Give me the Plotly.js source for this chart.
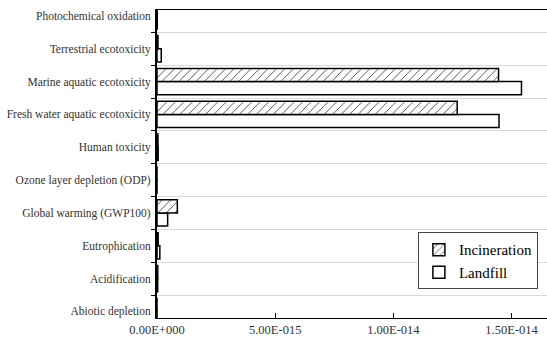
<!DOCTYPE html>
<html>
<head>
<meta charset="utf-8">
<script src="https://cdn.plot.ly/plotly-3.0.1.min.js"></script>
<style>html,body{margin:0;padding:0;background:#fff;}#chart{width:547px;height:337px;}</style>
</head>
<body>
<div id="chart"></div>
<script>
const categories = [
  "Abiotic depletion",
  "Acidification",
  "Eutrophication",
  "Global warming (GWP100)",
  "Ozone layer depletion (ODP)",
  "Human toxicity",
  "Fresh water aquatic ecotoxicity",
  "Marine aquatic ecotoxicity",
  "Terrestrial ecotoxicity",
  "Photochemical oxidation"
];
const incineration = [1e-18, 3e-17, 5e-17, 8.6e-16, 1e-18, 4e-17, 1.27e-14, 1.445e-14, 4e-17, 1e-17];
const landfill     = [1e-18, 3e-17, 1.2e-16, 4.5e-16, 1e-18, 5e-17, 1.447e-14, 1.542e-14, 1.8e-16, 1e-17];
const xTickVals = [0, 5e-15, 1e-14, 1.5e-14];
const xTickText = ["0.00E+000", "5.00E-015", "1.00E-014", "1.50E-014"];

const serif = "Liberation Serif";

const traces = [
  {
    type: "bar", orientation: "h", name: "Landfill",
    y: categories, x: landfill,
    marker: {color: "#ffffff", line: {color: "#000000", width: 1.5}},
    hoverinfo: "x+y"
  },
  {
    type: "bar", orientation: "h", name: "Incineration",
    y: categories, x: incineration,
    marker: {color: "#ffffff", line: {color: "#000000", width: 1.5},
      pattern: {shape: "/", fgcolor: "#444444", bgcolor: "#ffffff", size: 6, solidity: 0.15}},
    hoverinfo: "x+y"
  }
];

const layout = {
  width: 547, height: 337,
  margin: {l: 157, r: 0, t: 10, b: 19, pad: 0},
  paper_bgcolor: "#ffffff", plot_bgcolor: "#ffffff",
  barmode: "group", bargap: 0.2, bargroupgap: 0,
  showlegend: true,
  legend: {
    x: 0.669, y: 0.278, xanchor: "left", yanchor: "top",
    traceorder: "reversed",
    bordercolor: "#444444", borderwidth: 1, bgcolor: "#ffffff",
    font: {family: serif, size: 15, color: "#000000"},
    tracegroupgap: 0
  },
  font: {family: serif, color: "#222222"},
  xaxis: {
    range: [0, 1.65e-14],
    tickvals: xTickVals, ticktext: xTickText,
    ticks: "inside", ticklen: 5, tickcolor: "#000000",
    showgrid: false, zeroline: false,
    showline: true, linecolor: "#000000", linewidth: 1, mirror: true,
    tickfont: {family: serif, size: 12.5, color: "#333333"}
  },
  yaxis: {
    type: "category",
    range: [-0.2, 9.18],
    tickson: "boundaries",
    ticks: "outside", ticklen: 4, tickcolor: "#000000",
    showgrid: true, gridcolor: "#d9d9d9", gridwidth: 1,
    zeroline: false,
    showline: true, linecolor: "#000000", linewidth: 2,
    ticklabelstandoff: 2,
    tickfont: {family: serif, size: 11.5, color: "#333333"}
  }
};

Plotly.newPlot("chart", traces, layout, {displayModeBar: false, staticPlot: true});
</script>
</body>
</html>
